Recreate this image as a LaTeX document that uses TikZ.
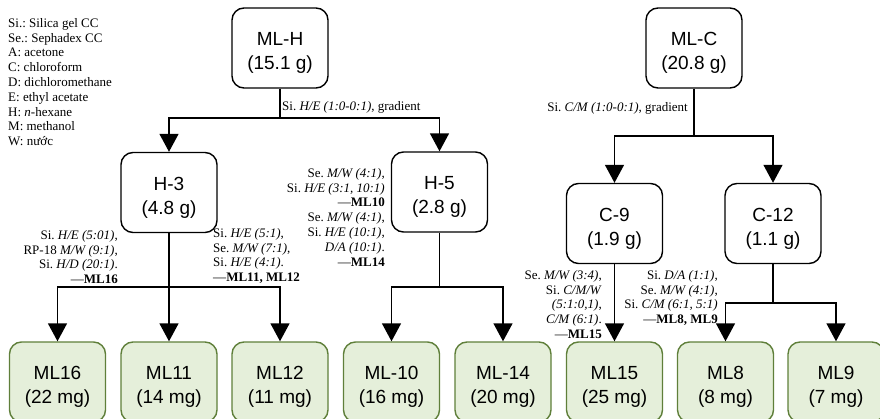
\documentclass[tikz,border=0pt]{standalone}
\usepackage{fontspec}
\setmainfont{Liberation Serif}
\newfontfamily\boxfont{Liberation Sans}
\usetikzlibrary{arrows.meta}
\definecolor{gfill}{HTML}{E5EFDA}
\definecolor{gdraw}{HTML}{5F7F3A}
\newcommand\bxt[2]{\rule{0pt}{23.6pt}#1\\#2}
\frenchspacing
\begin{document}
\begin{tikzpicture}[x=1pt,y=-1pt,
  box/.style={draw, rounded corners=12pt, minimum width=96pt, minimum height=80pt,
    line width=1.4pt, font=\boxfont\fontsize{19}{24}\selectfont, align=center, inner sep=0pt},
  leaf/.style={box, fill=gfill, draw=gdraw},
  con/.style={line width=1.5pt},
  arr/.style={con, -{Triangle[width=19pt,length=18pt]}},
  lab/.style={font=\frenchspacing\fontsize{13}{14.8}\selectfont, inner sep=0pt},
]
\useasboundingbox (0,0) rectangle (880,419);
\clip (0,0) rectangle (880,419);

% legend
\node[lab, anchor=north west, align=left] (legend) at (8,18) {Si.: Silica gel CC\\Se.: Sephadex CC\\A: acetone\\C: chloroform\\D: dichloromethane\\E: ethyl acetate\\H: \textit{n}-hexane\\M: methanol\\W: nước};

% top level
\node[box] (MLH) at (280,48) {\bxt{ML-H}{(15.1 g)}};
\node[box] (MLC) at (694,48) {\bxt{ML-C}{(20.8 g)}};

% second level
\node[box] (H3) at (169,192.5) {\bxt{H-3}{(4.8 g)}};
\node[box] (H5) at (439.5,192) {\bxt{H-5}{(2.8 g)}};
\node[box] (C9) at (614.5,223.5) {\bxt{C-9}{(1.9 g)}};
\node[box] (C12) at (773,223.5) {\bxt{C-12}{(1.1 g)}};

% leaves
\node[leaf] (L16) at (57.5,382) {\bxt{ML16}{(22 mg)}};
\node[leaf] (L11) at (169,382) {\bxt{ML11}{(14 mg)}};
\node[leaf] (L12) at (280,382) {\bxt{ML12}{(11 mg)}};
\node[leaf] (L10) at (391.5,382) {\bxt{ML-10}{(16 mg)}};
\node[leaf] (L14) at (503,382) {\bxt{ML-14}{(20 mg)}};
\node[leaf] (L15) at (614.5,382) {\bxt{ML15}{(25 mg)}};
\node[leaf] (L8) at (725.5,382) {\bxt{ML8}{(8 mg)}};
\node[leaf] (L9) at (836,382) {\bxt{ML9}{(7 mg)}};

% junctions
\coordinate (jH) at (280,118);
\coordinate (jC) at (694,136);
\coordinate (j3) at (169,287);
\coordinate (j5) at (439.5,287);
\coordinate (j12) at (773,303);

% connectors
\draw[con] (MLH.south) -- (jH);
\draw[arr] (jH) -| (H3.north);
\draw[arr] (jH) -| (H5.north);
\draw[con] (MLC.south) -- (jC);
\draw[arr] (jC) -| (C9.north);
\draw[arr] (jC) -| (C12.north);
\draw[con] (H3.south) -- (j3);
\draw[arr] (j3) -| (L16.north);
\draw[arr] (j3) -- (L11.north);
\draw[arr] (j3) -| (L12.north);
\draw[con] (H5.south) -- (j5);
\draw[arr] (j5) -| (L10.north);
\draw[arr] (j5) -| (L14.north);
\draw[arr] (C9.south) -- (L15.north);
\draw[con] (C12.south) -- (j12);
\draw[arr] (j12) -| (L8.north);
\draw[arr] (j12) -| (L9.north);

% labels
\node[lab, anchor=west] (tMLH) at (282,107) {Si. \textit{H/E (1:0-0:1)}, gradient};
\node[lab, anchor=east] (tMLC) at (688,108) {Si. \textit{C/M (1:0-0:1)}, gradient};
\node[lab, anchor=north east, align=right] (tH3a) at (118,230) {Si. \textit{H/E (5:01)},\\RP-18 \textit{M/W (9:1)},\\Si. \textit{H/D (20:1)}.\\---\textbf{ML16}};
\node[lab, anchor=north west, align=left] (tH3b) at (213,228) {Si. \textit{H/E (5:1)},\\Se. \textit{M/W (7:1)},\\Si. \textit{H/E (4:1)}.\\---\textbf{ML11, ML12}};
\node[lab, anchor=north east, align=right] (tH5) at (385,168) {Se. \textit{M/W (4:1)},\\Si. \textit{H/E (3:1, 10:1)}\\---\textbf{ML10}\\Se. \textit{M/W (4:1)},\\Si. \textit{H/E (10:1)},\\\textit{D/A (10:1)}.\\---\textbf{ML14}};
\node[lab, anchor=north east, align=right] (tC9) at (602,270) {Se. \textit{M/W (3:4)},\\Si. \textit{C/M/W}\\\textit{(5:1:0,1)},\\\textit{C/M (6:1)}.\\---\textbf{ML15}};
\node[lab, anchor=north east, align=right] (tC12) at (718,270) {Si. \textit{D/A (1:1)},\\Se. \textit{M/W (4:1)},\\Si. \textit{C/M (6:1, 5:1)}\\---\textbf{ML8, ML9}};
\end{tikzpicture}
\end{document}
